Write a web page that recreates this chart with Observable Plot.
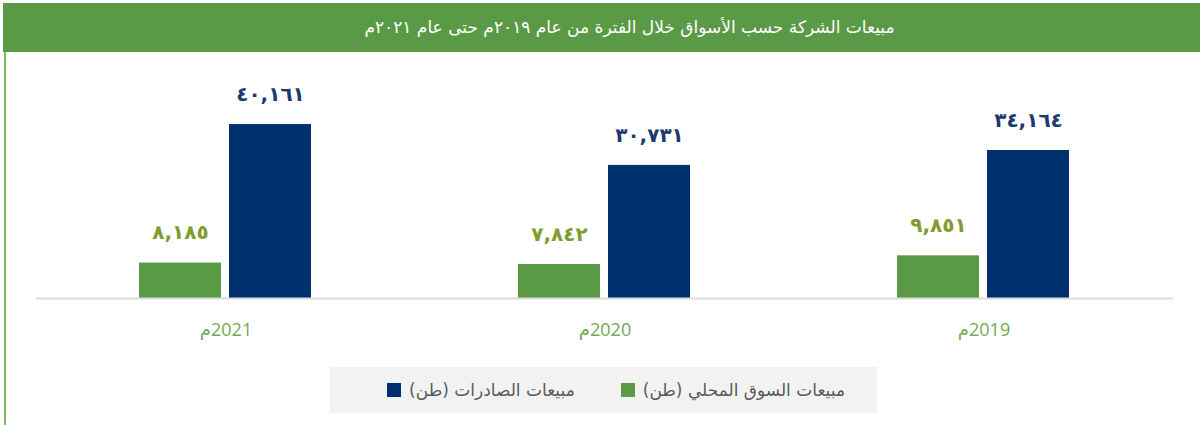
<!DOCTYPE html>
<html>
<head>
<meta charset="utf-8">
<script src="https://cdn.jsdelivr.net/npm/d3@7"></script>
<script src="https://cdn.jsdelivr.net/npm/@observablehq/plot@0.6"></script>
<style>
  html, body { margin: 0; padding: 0; background: #fff; }
  #wrap { position: relative; width: 1200px; height: 425px; overflow: hidden; font-family: "DejaVu Sans", "Noto Sans", sans-serif; }
  #header { position: absolute; left: 3px; top: 3px; width: 1197px; height: 49px; background: #5a9a46; color: #fff;
    display: flex; align-items: center; justify-content: center; font-size: 17px; direction: rtl;
    padding-bottom: 1px; padding-left: 56px; box-sizing: border-box; }
  #leftline { position: absolute; left: 4px; top: 52px; width: 2px; height: 373px; background: #7cb866; }
  #chart { position: absolute; left: 0; top: 52px; }
  #legend { position: absolute; left: 330px; top: 367px; width: 547px; height: 46px; background: #f2f2f2;
    display: flex; direction: rtl; align-items: center; padding-right: 32px; box-sizing: border-box; gap: 46px;
    font-size: 17px; color: #5a5a5a; }
  .item { display: flex; align-items: center; gap: 8px; }
  .sw { width: 14px; height: 14px; display: inline-block; }
</style>
</head>
<body>
<div id="wrap">
  <div id="header"></div>
  <div id="leftline"></div>
  <div id="chart"></div>
  <div id="legend"></div>
</div>
<script>
const titleText = "مبيعات الشركة حسب الأسواق خلال الفترة من عام ٢٠١٩م حتى عام ٢٠٢١م";
const years = ["2019", "2020", "2021"];
const yearSuffix = "م";
const localSales = [9851, 7842, 8185];
const exportSales = [34164, 30731, 40161];
const seriesKeys = ["local", "export"];
const seriesNames = ["مبيعات السوق المحلي (طن)", "مبيعات الصادرات  (طن)"];
const seriesColors = ["#5b9a45", "#00306e"];
const labelColors = ["#7f9c31", "#1d3a70"];

const data = years.flatMap((y, i) => [
  {year: y, series: "local", value: localSales[i]},
  {year: y, series: "export", value: exportSales[i]}
]);

const arabicDigits = "٠١٢٣٤٥٦٧٨٩";
const fmt = v => d3.format(",")(v).replace(/\d/g, d => arabicDigits[+d]);

document.getElementById("header").textContent = titleText;

const chart = Plot.plot({
  width: 1200,
  height: 308,
  marginLeft: 35,
  marginRight: 27,
  marginTop: 0,
  marginBottom: 62,
  fx: {domain: years.slice().reverse(), padding: 0, axis: null},
  x: {domain: seriesKeys, paddingInner: 0.088, paddingOuter: 1.128, axis: null},
  y: {domain: [0, 56800], axis: null},
  color: {domain: seriesKeys, range: seriesColors},
  marks: [
    Plot.barY(data, {fx: "year", x: "series", y: "value", fill: "series"}),
    Plot.ruleY([0], {stroke: "#dcdcdc", strokeWidth: 2}),
    Plot.text(data, {fx: "year", x: "series", y: "value", text: d => fmt(d.value), dy: -30,
      fill: d => labelColors[seriesKeys.indexOf(d.series)], fontSize: 20, fontWeight: "bold",
      fontFamily: "DejaVu Sans"}),
    Plot.text(years, {fx: d => d, text: d => "\u200F" + d + yearSuffix, frameAnchor: "bottom", dy: 37,
      fill: "#72aa55", fontSize: 18, fontFamily: "Open Sans, DejaVu Sans"})
  ]
});
document.getElementById("chart").appendChild(chart);

const legend = document.getElementById("legend");
seriesKeys.forEach((k, i) => {
  const item = document.createElement("div");
  item.className = "item";
  const t = document.createElement("span");
  t.textContent = seriesNames[i];
  const sw = document.createElement("span");
  sw.className = "sw";
  sw.style.background = seriesColors[i];
  item.appendChild(t);
  item.appendChild(sw);
  legend.appendChild(item);
});
</script>
</body>
</html>
